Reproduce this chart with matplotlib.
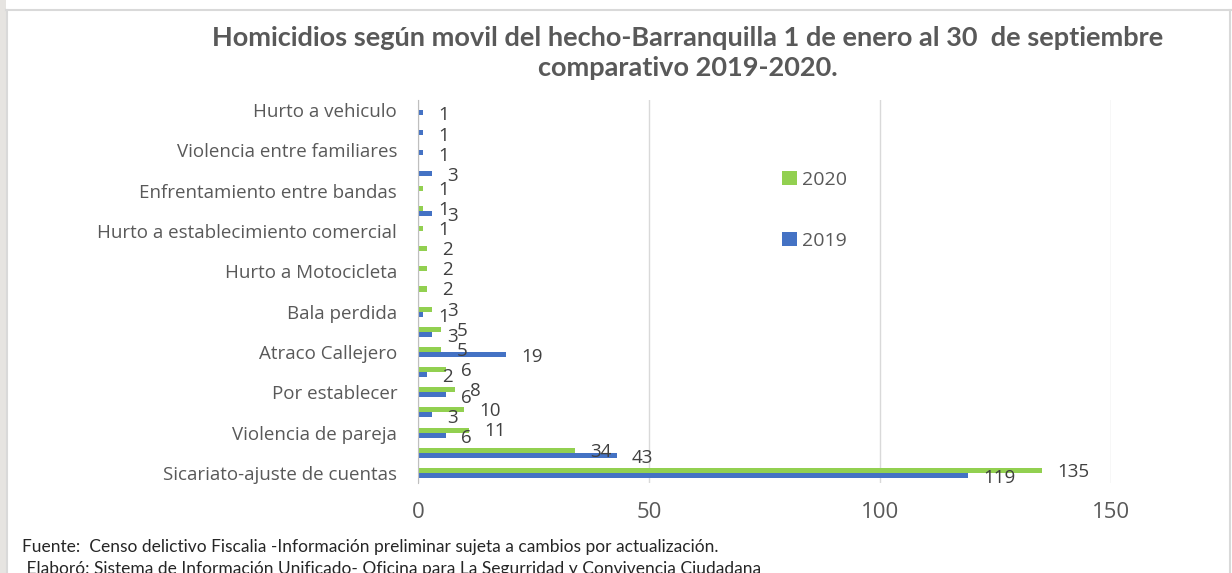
import numpy as np
import matplotlib.pyplot as plt
from matplotlib.patches import Rectangle

# categorias de abajo hacia arriba (las vacias no tienen rotulo visible en el original)
categorias = [
    'Sicariato-ajuste de cuentas', '', 'Violencia de pareja', '', 'Por establecer', '',
    'Atraco Callejero', '', 'Bala perdida', '', 'Hurto a Motocicleta', '',
    'Hurto a establecimiento comercial', '', 'Enfrentamiento entre bandas', '',
    'Violencia entre familiares', '', 'Hurto a vehiculo',
]
valores_2020 = [135, 34, 11, 10, 8, 6, 5, 5, 3, 2, 2, 2, 1, 1, 1, np.nan, np.nan, np.nan, np.nan]
valores_2019 = [119, 43, 6, 3, 6, 2, 19, 3, 1, np.nan, np.nan, np.nan, np.nan, 3, np.nan, 3, 1, 1, 1]
ticks_x = [0, 50, 100, 150]

titulo = 'Homicidios según movil del hecho-Barranquilla 1 de enero al 30  de septiembre\ncomparativo 2019-2020.'
fuente = 'Fuente:  Censo delictivo Fiscalia -Información preliminar sujeta a cambios por actualización.'
elaboro = ' Elaboró: Sistema de Información Unificado- Oficina para La Segurridad y Convivencia Ciudadana'

verde = '#92D050'
azul = '#4472C4'
gris_txt = '#595959'

fig = plt.figure(figsize=(12.32, 5.73), dpi=100)
fig.patch.set_facecolor('white')

# marco del grafico y franja gris a la izquierda
fig.patches.append(Rectangle((0, 0), 6/1232, 1, transform=fig.transFigure,
                             facecolor='#E6E4E1', edgecolor='none', zorder=0))
fig.add_artist(plt.Line2D([6/1232, 1231/1232], [1-10/573, 1-10/573], color='#D9D9D9', lw=1.5))
fig.add_artist(plt.Line2D([7/1232, 7/1232], [0, 1-10/573], color='#D9D9D9', lw=1.5))
fig.add_artist(plt.Line2D([1230/1232, 1230/1232], [0, 1-10/573], color='#D9D9D9', lw=1.5))

ax = fig.add_axes([418/1232, 1-483/573, (1111-418)/1232, (483-100)/573])

y = np.arange(len(categorias))
h = 0.25
b20 = ax.barh(y + h/2, valores_2020, height=h, color=verde, label='2020', zorder=3)
b19 = ax.barh(y - h/2, valores_2019, height=h, color=azul, label='2019', zorder=3)

# etiquetas de datos
for yy, v in zip(y, valores_2020):
    if not np.isnan(v):
        ax.annotate(f'{v:g}', (v, yy + h/2), xytext=(11, -1), textcoords='offset points',
                    ha='left', va='center', fontsize=13.5, color='#404040', family='Open Sans')
for yy, v in zip(y, valores_2019):
    if not np.isnan(v):
        ax.annotate(f'{v:g}', (v, yy - h/2), xytext=(11, -2), textcoords='offset points',
                    ha='left', va='center', fontsize=13.5, color='#404040', family='Open Sans')

ax.set_xlim(0, 150)
ax.set_ylim(-0.5, len(categorias) - 0.5)
ax.set_xticks(ticks_x)
ax.set_xticklabels([str(t) for t in ticks_x], fontsize=16, color=gris_txt, family='Open Sans')
ax.set_yticks(y)
ax.set_yticklabels(categorias, fontsize=13.5, color=gris_txt, family='Open Sans')
ax.tick_params(axis='y', length=0, pad=15)
ax.tick_params(axis='x', length=0, pad=14)

ax.grid(axis='x', color='#D9D9D9', lw=1, zorder=0)
for s in ['top', 'right', 'bottom']:
    ax.spines[s].set_visible(False)
ax.spines['left'].set_color('#BFBFBF')
ax.spines['left'].set_zorder(4)

leg = ax.legend(handles=[b20, b19], loc='upper left', bbox_to_anchor=(0.5, 0.86),
                frameon=False, prop={'family': 'Open Sans', 'size': 14},
                labelspacing=2.2, handlelength=0.75, handleheight=0.75, handletextpad=0.3)
for t in leg.get_texts():
    t.set_color(gris_txt)

fig.text(688/1232, 1-53/573, titulo, ha='center', va='center', fontsize=19.5,
         fontweight='bold', color=gris_txt, family='Lato', linespacing=1.35)

fig.text(22/1232, 1-547/573, fuente, ha='left', va='center', fontsize=12.5, color='#262626', family='Lato')
fig.text(22/1232, 1-569/573, elaboro, ha='left', va='center', fontsize=12.5, color='#262626', family='Lato')

fig.savefig('out.png', dpi=100, facecolor='white')
